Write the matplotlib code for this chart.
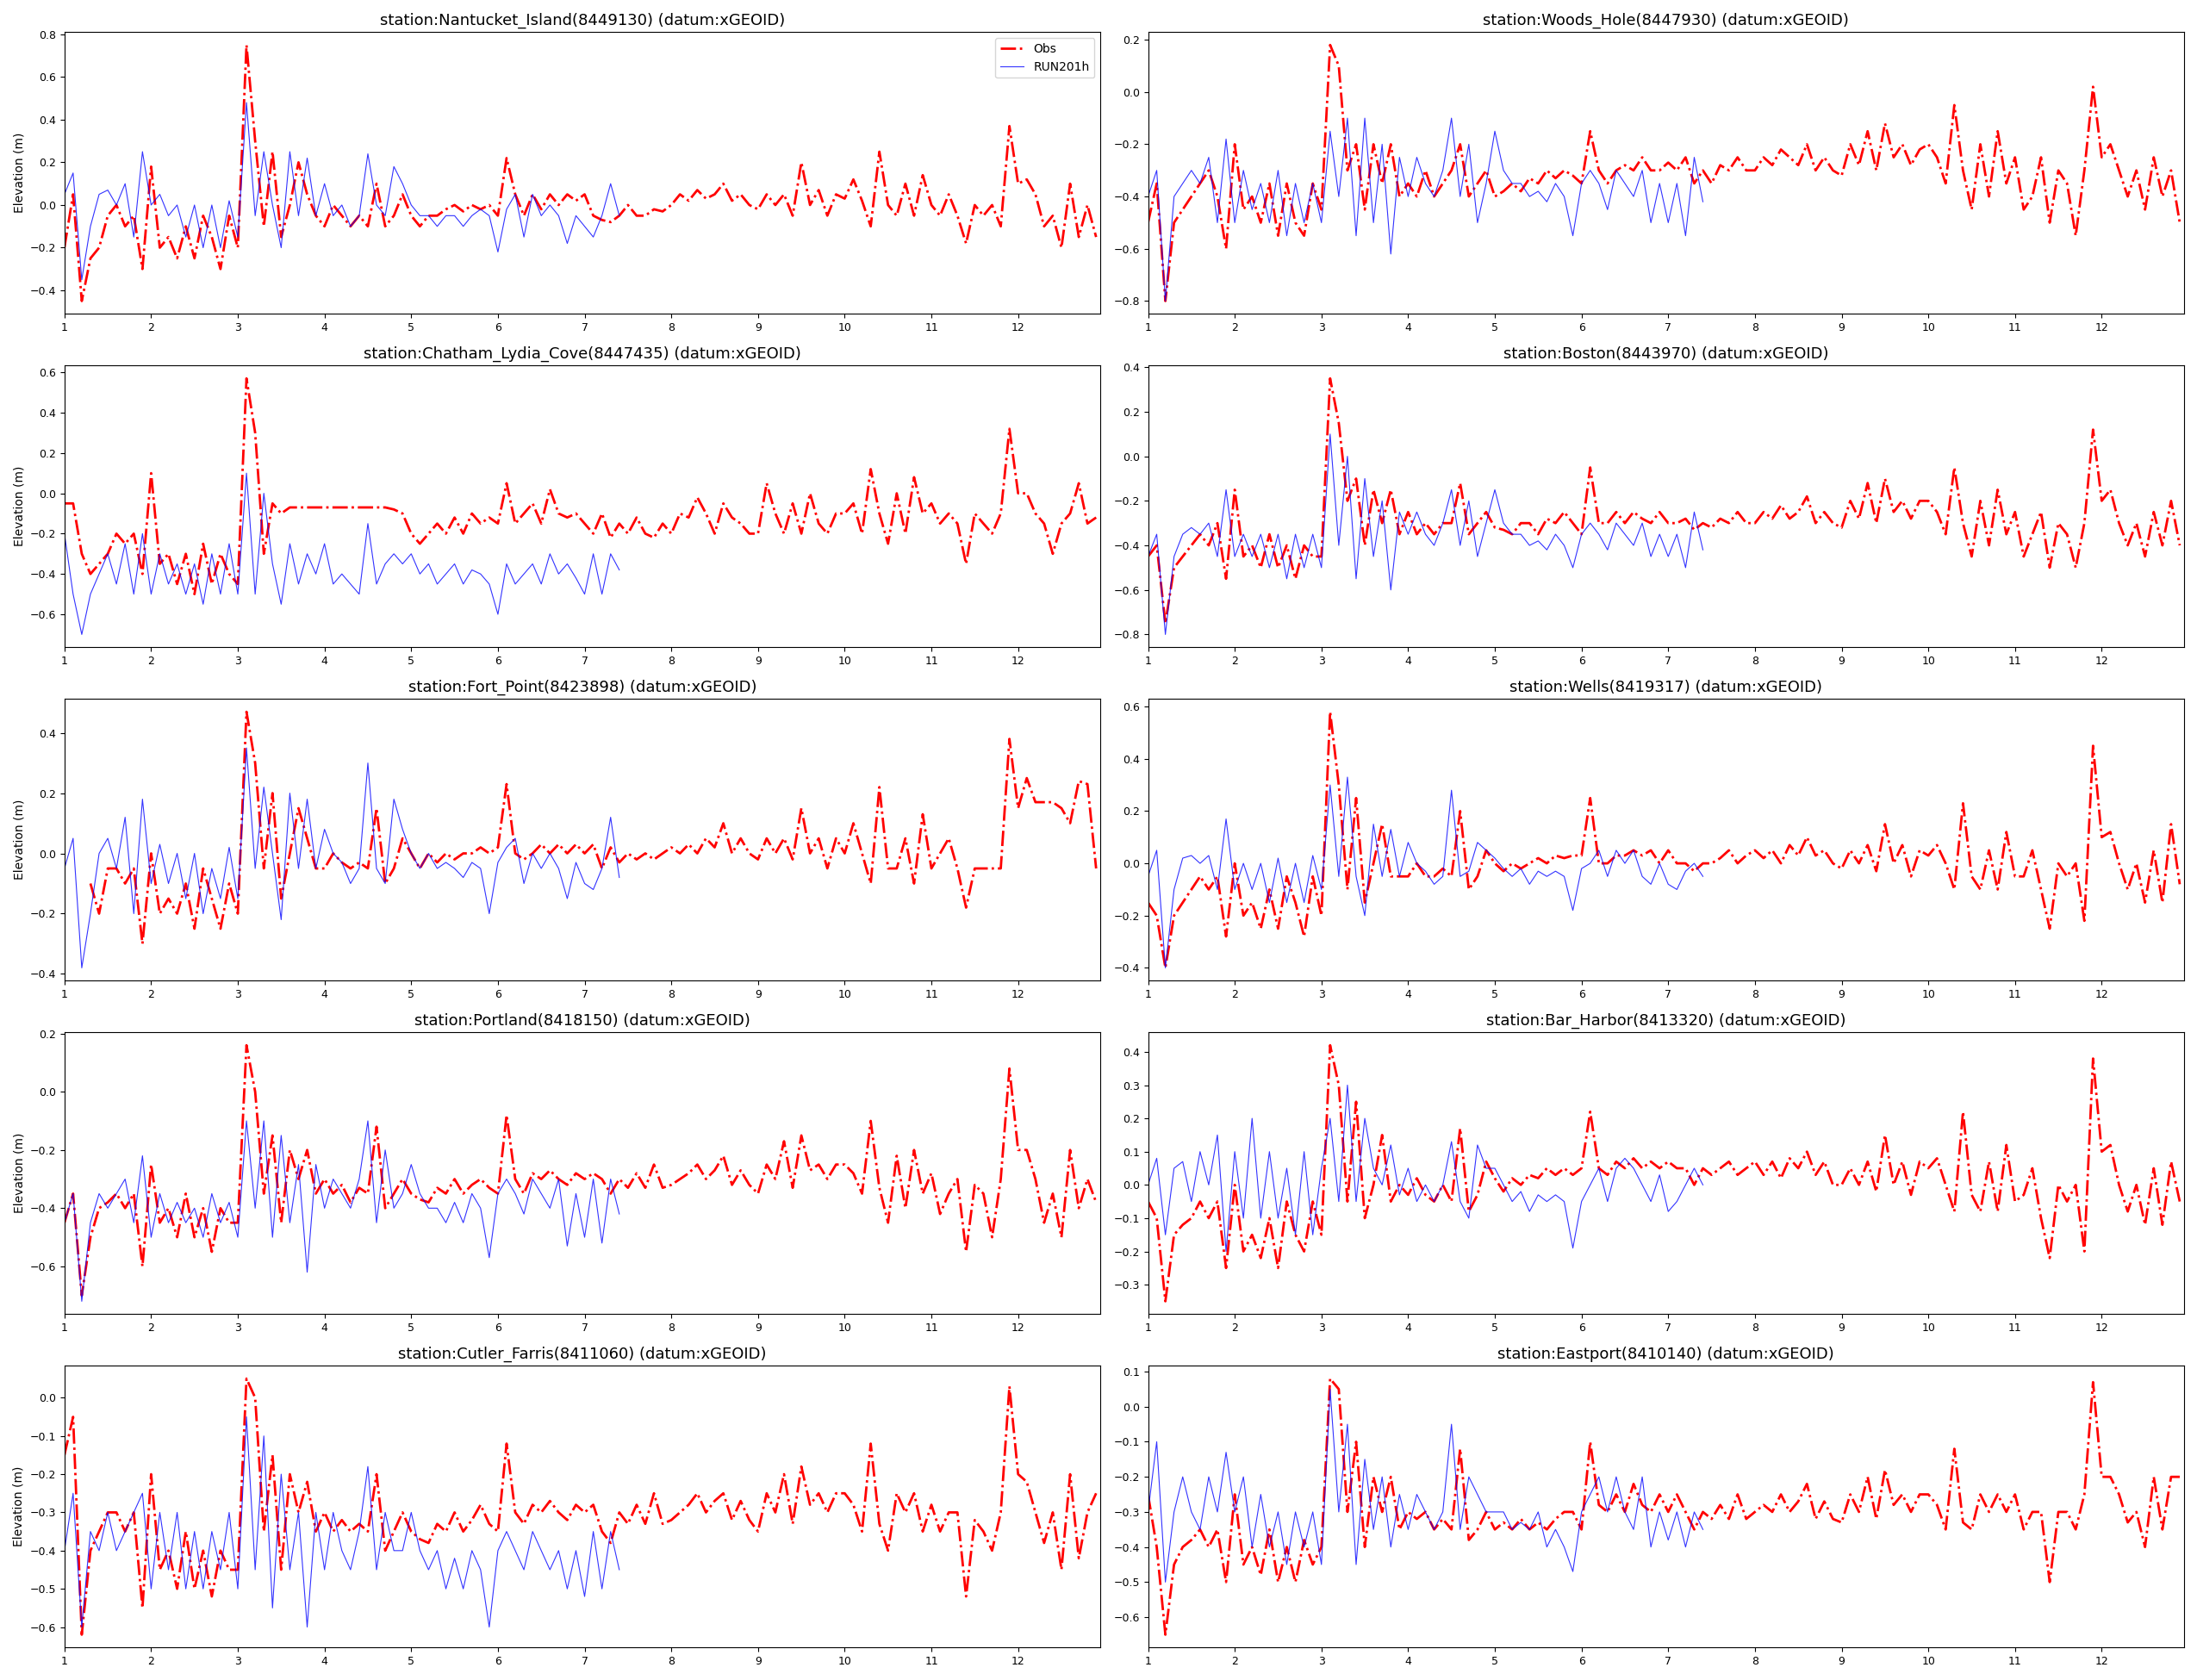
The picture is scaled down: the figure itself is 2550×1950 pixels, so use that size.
import numpy as np
import matplotlib
matplotlib.use("Agg")
import matplotlib.pyplot as plt

stations = ["Nantucket_Island(8449130)", "Woods_Hole(8447930)", "Chatham_Lydia_Cove(8447435)",
            "Boston(8443970)", "Fort_Point(8423898)", "Wells(8419317)", "Portland(8418150)",
            "Bar_Harbor(8413320)", "Cutler_Farris(8411060)", "Eastport(8410140)"]

obs_days = [1.0 + 0.1 * i for i in range(120)]
mod_days = [1.0 + 0.1 * i for i in range(65)]
nan = float("nan")

obs = {}
mod = {}
obs["Nantucket_Island(8449130)"] = [-0.2,0.05,-0.45,-0.25,-0.2,-0.05,0.0,-0.1,-0.05,-0.3,0.18,-0.2,-0.15,-0.25,-0.1,-0.25,-0.05,-0.15,-0.3,-0.05,-0.2,0.75,0.3,-0.1,0.25,-0.15,0.0,0.2,0.05,-0.05,-0.1,0.0,-0.05,-0.1,-0.05,-0.1,0.1,-0.1,-0.05,0.05,-0.05,-0.1,-0.05,-0.05,-0.02,0.0,-0.03,0.0,-0.02,0.0,-0.05,0.22,0.05,-0.05,0.05,-0.02,0.05,0.0,0.05,0.02,0.05,-0.05,-0.07,-0.08,-0.05,0.0,-0.05,-0.05,-0.02,-0.03,0.0,0.05,0.02,0.07,0.03,0.05,0.1,0.02,0.05,0.0,-0.02,0.05,0.0,0.05,-0.05,0.2,0.0,0.07,-0.05,0.05,0.03,0.12,0.02,-0.1,0.25,0.0,-0.05,0.1,-0.05,0.14,0.0,-0.05,0.05,-0.05,-0.18,0.0,-0.05,0.0,-0.1,0.37,0.1,0.12,0.05,-0.1,-0.05,-0.2,0.1,-0.15,0.0,-0.15]
mod["Nantucket_Island(8449130)"] = [0.05,0.15,-0.35,-0.1,0.05,0.07,0.0,0.1,-0.15,0.25,0.0,0.05,-0.05,0.0,-0.15,0.0,-0.2,0.0,-0.2,0.02,-0.15,0.48,-0.05,0.25,0.0,-0.2,0.25,-0.05,0.22,-0.05,0.1,-0.05,0.0,-0.1,-0.05,0.24,0.0,-0.05,0.18,0.1,0.0,-0.05,-0.05,-0.1,-0.05,-0.05,-0.1,-0.05,-0.02,-0.05,-0.22,-0.02,0.05,-0.15,0.05,-0.05,0.0,-0.05,-0.18,-0.05,-0.1,-0.15,-0.05,0.1,-0.05]
obs["Woods_Hole(8447930)"] = [-0.5,-0.35,-0.8,-0.5,-0.45,-0.4,-0.35,-0.3,-0.4,-0.6,-0.2,-0.45,-0.4,-0.5,-0.35,-0.55,-0.35,-0.5,-0.55,-0.35,-0.45,0.18,0.1,-0.3,-0.2,-0.45,-0.2,-0.35,-0.2,-0.4,-0.35,-0.4,-0.3,-0.4,-0.35,-0.3,-0.2,-0.4,-0.35,-0.3,-0.4,-0.38,-0.35,-0.38,-0.33,-0.35,-0.3,-0.33,-0.3,-0.32,-0.35,-0.15,-0.3,-0.35,-0.3,-0.28,-0.3,-0.25,-0.3,-0.3,-0.27,-0.3,-0.25,-0.35,-0.3,-0.35,-0.28,-0.3,-0.25,-0.3,-0.3,-0.25,-0.28,-0.22,-0.25,-0.28,-0.2,-0.3,-0.25,-0.3,-0.32,-0.2,-0.28,-0.15,-0.3,-0.12,-0.25,-0.2,-0.28,-0.22,-0.2,-0.25,-0.35,-0.05,-0.3,-0.45,-0.2,-0.4,-0.15,-0.35,-0.25,-0.45,-0.4,-0.25,-0.5,-0.3,-0.35,-0.55,-0.3,0.02,-0.25,-0.2,-0.3,-0.4,-0.3,-0.45,-0.25,-0.4,-0.3,-0.5]
mod["Woods_Hole(8447930)"] = [-0.4,-0.3,-0.8,-0.4,-0.35,-0.3,-0.35,-0.25,-0.5,-0.18,-0.5,-0.3,-0.45,-0.35,-0.5,-0.3,-0.55,-0.35,-0.5,-0.35,-0.5,-0.15,-0.4,-0.1,-0.55,-0.1,-0.5,-0.2,-0.62,-0.25,-0.4,-0.25,-0.35,-0.4,-0.3,-0.1,-0.4,-0.2,-0.5,-0.35,-0.15,-0.3,-0.35,-0.35,-0.4,-0.38,-0.42,-0.35,-0.4,-0.55,-0.35,-0.3,-0.35,-0.45,-0.3,-0.35,-0.4,-0.3,-0.5,-0.35,-0.5,-0.35,-0.55,-0.25,-0.42]
obs["Chatham_Lydia_Cove(8447435)"] = [-0.05,-0.05,-0.3,-0.4,-0.35,-0.3,-0.2,-0.25,-0.2,-0.4,0.1,-0.35,-0.3,-0.45,-0.3,-0.5,-0.25,-0.45,-0.3,-0.4,-0.45,0.57,0.3,-0.3,-0.05,-0.1,-0.07,-0.07,-0.07,-0.07,-0.07,-0.07,-0.07,-0.07,-0.07,-0.07,-0.07,-0.07,-0.08,-0.1,-0.2,-0.25,-0.2,-0.15,-0.2,-0.12,-0.2,-0.1,-0.15,-0.12,-0.15,0.05,-0.15,-0.1,-0.05,-0.15,0.02,-0.1,-0.12,-0.1,-0.15,-0.2,-0.1,-0.22,-0.15,-0.2,-0.12,-0.2,-0.22,-0.15,-0.2,-0.1,-0.12,-0.02,-0.1,-0.2,-0.05,-0.12,-0.15,-0.2,-0.2,0.05,-0.1,-0.2,-0.05,-0.2,0.0,-0.15,-0.2,-0.1,-0.1,-0.05,-0.2,0.12,-0.1,-0.25,0.0,-0.2,0.08,-0.1,-0.05,-0.15,-0.1,-0.15,-0.35,-0.1,-0.15,-0.2,-0.1,0.32,0.0,0.0,-0.1,-0.15,-0.3,-0.15,-0.1,0.05,-0.15,-0.12]
mod["Chatham_Lydia_Cove(8447435)"] = [-0.2,-0.5,-0.7,-0.5,-0.4,-0.3,-0.45,-0.25,-0.5,-0.2,-0.5,-0.3,-0.45,-0.35,-0.5,-0.35,-0.55,-0.3,-0.5,-0.25,-0.5,0.1,-0.5,0.0,-0.35,-0.55,-0.25,-0.45,-0.3,-0.4,-0.25,-0.45,-0.4,-0.45,-0.5,-0.15,-0.45,-0.35,-0.3,-0.35,-0.3,-0.4,-0.35,-0.45,-0.4,-0.35,-0.45,-0.38,-0.4,-0.45,-0.6,-0.35,-0.45,-0.4,-0.35,-0.45,-0.3,-0.4,-0.35,-0.42,-0.5,-0.3,-0.5,-0.3,-0.38]
obs["Boston(8443970)"] = [-0.45,-0.4,-0.75,-0.5,-0.45,-0.4,-0.35,-0.4,-0.3,-0.55,-0.15,-0.45,-0.4,-0.5,-0.35,-0.5,-0.4,-0.55,-0.4,-0.45,-0.45,0.35,0.15,-0.2,-0.1,-0.4,-0.15,-0.3,-0.15,-0.35,-0.25,-0.35,-0.3,-0.35,-0.3,-0.3,-0.12,-0.35,-0.3,-0.25,-0.32,-0.33,-0.35,-0.3,-0.3,-0.35,-0.28,-0.3,-0.25,-0.3,-0.35,-0.05,-0.3,-0.3,-0.25,-0.3,-0.25,-0.28,-0.3,-0.25,-0.3,-0.3,-0.28,-0.33,-0.3,-0.32,-0.28,-0.3,-0.25,-0.3,-0.3,-0.25,-0.28,-0.22,-0.28,-0.25,-0.18,-0.3,-0.25,-0.3,-0.32,-0.2,-0.28,-0.12,-0.3,-0.1,-0.25,-0.2,-0.28,-0.2,-0.2,-0.25,-0.35,-0.05,-0.3,-0.45,-0.2,-0.4,-0.15,-0.35,-0.25,-0.45,-0.35,-0.25,-0.5,-0.3,-0.35,-0.5,-0.3,0.12,-0.2,-0.15,-0.3,-0.4,-0.3,-0.45,-0.25,-0.4,-0.2,-0.4]
mod["Boston(8443970)"] = [-0.45,-0.35,-0.8,-0.45,-0.35,-0.32,-0.35,-0.3,-0.45,-0.15,-0.45,-0.35,-0.45,-0.35,-0.5,-0.35,-0.55,-0.35,-0.5,-0.35,-0.5,0.1,-0.4,0.0,-0.55,-0.1,-0.45,-0.2,-0.6,-0.25,-0.35,-0.25,-0.35,-0.4,-0.3,-0.15,-0.4,-0.2,-0.45,-0.3,-0.15,-0.3,-0.35,-0.35,-0.4,-0.38,-0.42,-0.35,-0.4,-0.5,-0.35,-0.3,-0.35,-0.42,-0.3,-0.35,-0.4,-0.3,-0.45,-0.35,-0.45,-0.35,-0.5,-0.25,-0.42]
obs["Fort_Point(8423898)"] = [nan,nan,nan,-0.1,-0.2,-0.05,-0.05,-0.1,-0.05,-0.3,0.0,-0.2,-0.15,-0.2,-0.1,-0.25,-0.05,-0.15,-0.25,-0.1,-0.2,0.47,0.3,-0.05,0.2,-0.15,0.0,0.15,0.05,-0.05,-0.05,0.0,-0.03,-0.05,-0.03,-0.05,0.15,-0.1,-0.05,0.05,0.0,-0.05,0.0,-0.03,0.0,-0.02,0.0,0.0,0.02,0.0,0.02,0.23,0.0,-0.02,0.0,0.03,0.0,0.03,0.0,0.03,0.0,0.03,-0.05,0.02,-0.03,0.0,-0.02,0.0,-0.02,0.0,0.02,0.0,0.03,0.0,0.05,0.02,0.1,0.0,0.05,0.0,-0.02,0.05,0.0,0.05,-0.02,0.15,0.0,0.05,-0.05,0.05,0.0,0.1,0.0,-0.1,0.22,-0.05,-0.05,0.05,-0.1,0.13,-0.05,0.0,0.05,-0.05,-0.18,-0.05,-0.05,-0.05,-0.05,0.38,0.15,0.25,0.17,0.17,0.17,0.15,0.1,0.24,0.23,-0.05]
mod["Fort_Point(8423898)"] = [-0.05,0.05,-0.38,-0.2,0.0,0.05,-0.05,0.12,-0.2,0.18,-0.1,0.03,-0.1,0.0,-0.15,0.0,-0.2,-0.05,-0.15,0.02,-0.15,0.35,-0.05,0.22,0.0,-0.22,0.2,-0.05,0.18,-0.05,0.08,0.0,-0.03,-0.1,-0.05,0.3,-0.05,-0.1,0.18,0.08,0.0,-0.05,0.0,-0.05,-0.03,-0.05,-0.08,-0.03,-0.05,-0.2,-0.03,0.02,0.05,-0.1,0.0,-0.05,0.0,-0.05,-0.15,-0.03,-0.1,-0.12,-0.05,0.12,-0.08]
obs["Wells(8419317)"] = [-0.15,-0.2,-0.4,-0.2,-0.15,-0.1,-0.05,-0.1,-0.05,-0.28,0.0,-0.2,-0.15,-0.25,-0.1,-0.25,-0.05,-0.15,-0.28,-0.05,-0.2,0.58,0.3,-0.1,0.25,-0.15,0.0,0.15,-0.05,-0.05,-0.05,0.0,-0.05,-0.05,-0.02,-0.05,0.2,-0.1,-0.05,0.05,0.0,-0.03,0.0,-0.02,0.0,0.02,0.0,0.03,0.02,0.03,0.03,0.25,0.0,0.0,0.03,0.03,0.05,0.03,0.05,0.0,0.05,0.0,0.0,-0.03,0.0,0.0,0.02,0.05,0.0,0.03,0.05,0.02,0.05,0.0,0.07,0.03,0.1,0.03,0.05,0.0,-0.02,0.05,0.0,0.07,-0.03,0.15,0.0,0.07,-0.05,0.05,0.03,0.07,0.0,-0.1,0.23,-0.05,-0.1,0.05,-0.1,0.12,-0.05,-0.05,0.05,-0.1,-0.25,0.0,-0.05,0.0,-0.22,0.45,0.1,0.12,0.0,-0.1,0.0,-0.15,0.05,-0.15,0.15,-0.08]
mod["Wells(8419317)"] = [-0.05,0.05,-0.4,-0.1,0.02,0.03,0.0,0.03,-0.1,0.17,-0.1,0.0,-0.1,0.0,-0.15,0.02,-0.15,0.0,-0.15,0.03,-0.1,0.3,-0.05,0.33,-0.05,-0.2,0.15,-0.05,0.13,-0.05,0.08,0.0,-0.03,-0.08,-0.05,0.28,-0.05,-0.03,0.08,0.05,0.02,-0.02,-0.05,-0.02,-0.08,-0.03,-0.05,-0.03,-0.05,-0.18,-0.02,0.0,0.05,-0.05,0.05,0.0,0.05,-0.05,-0.08,0.0,-0.08,-0.1,-0.03,0.0,-0.05]
obs["Portland(8418150)"] = [-0.45,-0.35,-0.7,-0.5,-0.4,-0.38,-0.35,-0.4,-0.35,-0.6,-0.25,-0.45,-0.4,-0.5,-0.35,-0.5,-0.4,-0.55,-0.4,-0.45,-0.45,0.16,0.0,-0.35,-0.15,-0.45,-0.2,-0.3,-0.2,-0.35,-0.3,-0.35,-0.32,-0.38,-0.33,-0.35,-0.12,-0.4,-0.35,-0.3,-0.35,-0.37,-0.38,-0.33,-0.35,-0.3,-0.35,-0.32,-0.3,-0.33,-0.35,-0.08,-0.3,-0.35,-0.28,-0.3,-0.27,-0.3,-0.32,-0.28,-0.3,-0.28,-0.3,-0.35,-0.3,-0.33,-0.28,-0.33,-0.25,-0.33,-0.32,-0.3,-0.28,-0.25,-0.3,-0.27,-0.22,-0.32,-0.27,-0.32,-0.35,-0.25,-0.3,-0.17,-0.33,-0.15,-0.27,-0.25,-0.3,-0.25,-0.25,-0.28,-0.35,-0.1,-0.33,-0.45,-0.22,-0.4,-0.2,-0.35,-0.28,-0.42,-0.35,-0.3,-0.55,-0.32,-0.35,-0.5,-0.3,0.08,-0.2,-0.2,-0.3,-0.45,-0.35,-0.5,-0.2,-0.4,-0.3,-0.38]
mod["Portland(8418150)"] = [-0.45,-0.35,-0.72,-0.45,-0.35,-0.4,-0.35,-0.3,-0.45,-0.22,-0.5,-0.35,-0.45,-0.38,-0.45,-0.4,-0.5,-0.35,-0.45,-0.38,-0.5,-0.1,-0.4,-0.1,-0.5,-0.15,-0.45,-0.25,-0.62,-0.25,-0.4,-0.3,-0.35,-0.4,-0.3,-0.1,-0.45,-0.2,-0.4,-0.35,-0.25,-0.35,-0.4,-0.4,-0.45,-0.38,-0.45,-0.35,-0.4,-0.57,-0.35,-0.3,-0.35,-0.42,-0.3,-0.35,-0.4,-0.3,-0.53,-0.35,-0.5,-0.3,-0.52,-0.3,-0.42]
obs["Bar_Harbor(8413320)"] = [-0.05,-0.1,-0.35,-0.15,-0.12,-0.1,-0.05,-0.1,-0.05,-0.25,0.0,-0.2,-0.15,-0.22,-0.1,-0.25,-0.05,-0.15,-0.2,-0.05,-0.15,0.42,0.3,-0.05,0.25,-0.1,0.0,0.15,-0.05,0.0,-0.03,0.02,-0.03,-0.05,0.0,-0.05,0.17,-0.08,-0.03,0.07,0.02,-0.02,0.02,0.0,0.03,0.02,0.05,0.03,0.05,0.03,0.05,0.22,0.05,0.03,0.07,0.05,0.08,0.05,0.07,0.05,0.07,0.05,0.05,0.0,0.05,0.03,0.05,0.07,0.03,0.05,0.07,0.03,0.07,0.02,0.08,0.05,0.1,0.03,0.07,0.0,0.0,0.05,0.0,0.07,-0.02,0.15,0.0,0.07,-0.03,0.07,0.05,0.08,0.0,-0.08,0.22,-0.03,-0.08,0.07,-0.08,0.12,-0.05,-0.03,0.05,-0.1,-0.22,0.0,-0.05,0.0,-0.2,0.38,0.1,0.12,0.0,-0.08,0.0,-0.12,0.05,-0.12,0.07,-0.05]
mod["Bar_Harbor(8413320)"] = [0.0,0.08,-0.15,0.05,0.07,-0.05,0.1,0.0,0.15,-0.2,0.1,-0.1,0.2,-0.1,0.1,-0.1,0.05,-0.15,0.1,-0.15,0.05,0.2,-0.05,0.3,-0.05,0.2,0.05,0.0,0.12,-0.03,0.05,-0.05,0.0,-0.05,0.0,0.13,-0.05,-0.1,0.12,0.05,0.05,0.0,-0.05,-0.02,-0.08,-0.03,-0.05,-0.03,-0.05,-0.19,-0.05,0.0,0.05,-0.05,0.05,0.08,0.05,0.0,-0.05,0.03,-0.08,-0.05,0.0,0.05,0.0]
obs["Cutler_Farris(8411060)"] = [-0.15,-0.05,-0.62,-0.4,-0.35,-0.3,-0.3,-0.35,-0.3,-0.55,-0.2,-0.45,-0.4,-0.5,-0.35,-0.5,-0.4,-0.52,-0.4,-0.45,-0.45,0.05,0.0,-0.35,-0.15,-0.45,-0.2,-0.3,-0.22,-0.35,-0.3,-0.35,-0.32,-0.35,-0.33,-0.35,-0.2,-0.4,-0.35,-0.3,-0.35,-0.37,-0.38,-0.33,-0.35,-0.3,-0.35,-0.32,-0.28,-0.33,-0.35,-0.12,-0.3,-0.33,-0.28,-0.3,-0.27,-0.3,-0.32,-0.28,-0.3,-0.28,-0.35,-0.38,-0.3,-0.33,-0.28,-0.33,-0.25,-0.33,-0.32,-0.3,-0.28,-0.25,-0.3,-0.27,-0.25,-0.32,-0.27,-0.32,-0.35,-0.25,-0.3,-0.2,-0.33,-0.18,-0.28,-0.25,-0.3,-0.25,-0.25,-0.28,-0.35,-0.12,-0.33,-0.4,-0.25,-0.3,-0.25,-0.35,-0.28,-0.35,-0.3,-0.3,-0.52,-0.32,-0.35,-0.4,-0.3,0.03,-0.2,-0.22,-0.3,-0.38,-0.3,-0.45,-0.2,-0.42,-0.3,-0.25]
mod["Cutler_Farris(8411060)"] = [-0.4,-0.25,-0.6,-0.35,-0.4,-0.3,-0.4,-0.35,-0.3,-0.25,-0.5,-0.3,-0.45,-0.3,-0.5,-0.35,-0.5,-0.35,-0.45,-0.3,-0.5,-0.05,-0.45,-0.1,-0.55,-0.2,-0.45,-0.3,-0.6,-0.3,-0.45,-0.3,-0.4,-0.45,-0.35,-0.18,-0.45,-0.3,-0.4,-0.4,-0.3,-0.4,-0.45,-0.4,-0.5,-0.42,-0.5,-0.4,-0.45,-0.6,-0.4,-0.35,-0.4,-0.45,-0.35,-0.4,-0.45,-0.4,-0.5,-0.4,-0.52,-0.35,-0.5,-0.35,-0.45]
obs["Eastport(8410140)"] = [-0.25,-0.4,-0.65,-0.45,-0.4,-0.38,-0.35,-0.4,-0.35,-0.5,-0.25,-0.45,-0.4,-0.48,-0.35,-0.5,-0.4,-0.5,-0.38,-0.45,-0.4,0.08,0.05,-0.3,-0.1,-0.4,-0.2,-0.3,-0.2,-0.35,-0.3,-0.32,-0.3,-0.35,-0.32,-0.35,-0.12,-0.38,-0.35,-0.3,-0.35,-0.33,-0.35,-0.32,-0.35,-0.33,-0.35,-0.32,-0.3,-0.3,-0.35,-0.1,-0.28,-0.3,-0.25,-0.3,-0.22,-0.28,-0.3,-0.25,-0.3,-0.25,-0.3,-0.35,-0.3,-0.32,-0.28,-0.32,-0.25,-0.32,-0.3,-0.28,-0.3,-0.25,-0.3,-0.27,-0.22,-0.32,-0.27,-0.32,-0.33,-0.25,-0.3,-0.2,-0.32,-0.18,-0.28,-0.25,-0.3,-0.25,-0.25,-0.28,-0.35,-0.12,-0.33,-0.35,-0.25,-0.3,-0.25,-0.3,-0.25,-0.35,-0.3,-0.3,-0.5,-0.3,-0.3,-0.35,-0.25,0.07,-0.2,-0.2,-0.25,-0.33,-0.3,-0.4,-0.2,-0.35,-0.2,-0.2]
mod["Eastport(8410140)"] = [-0.3,-0.1,-0.5,-0.3,-0.2,-0.3,-0.35,-0.2,-0.3,-0.13,-0.3,-0.2,-0.4,-0.25,-0.4,-0.3,-0.45,-0.3,-0.4,-0.3,-0.45,0.05,-0.3,-0.05,-0.45,-0.15,-0.35,-0.2,-0.4,-0.25,-0.35,-0.25,-0.3,-0.35,-0.3,-0.05,-0.35,-0.2,-0.25,-0.3,-0.3,-0.3,-0.35,-0.33,-0.35,-0.3,-0.4,-0.35,-0.4,-0.47,-0.3,-0.25,-0.2,-0.3,-0.2,-0.3,-0.35,-0.2,-0.4,-0.3,-0.38,-0.3,-0.4,-0.3,-0.35]

fig, axes = plt.subplots(5, 2, figsize=(25.5, 19.5), dpi=100)
for k, st in enumerate(stations):
    ax = axes[k // 2, k % 2]
    ax.plot(obs_days, obs[st], color="red", linestyle="-.", linewidth=2, label="Obs")
    ax.plot(mod_days, mod[st], color="blue", linewidth=0.8, alpha=0.8, label="RUN201h")
    ax.set_title(f"station:{st} (datum:xGEOID)", fontsize=13)
    ax.set_xlim(1, 12.95)
    ax.set_xticks(range(1, 13))
    ax.tick_params(labelsize=9)
    if k % 2 == 0:
        ax.set_ylabel("Elevation (m)", fontsize=10)
    if k == 0:
        ax.legend(loc="upper right", fontsize=10)
fig.tight_layout()
fig.savefig("out.png", dpi=100)
